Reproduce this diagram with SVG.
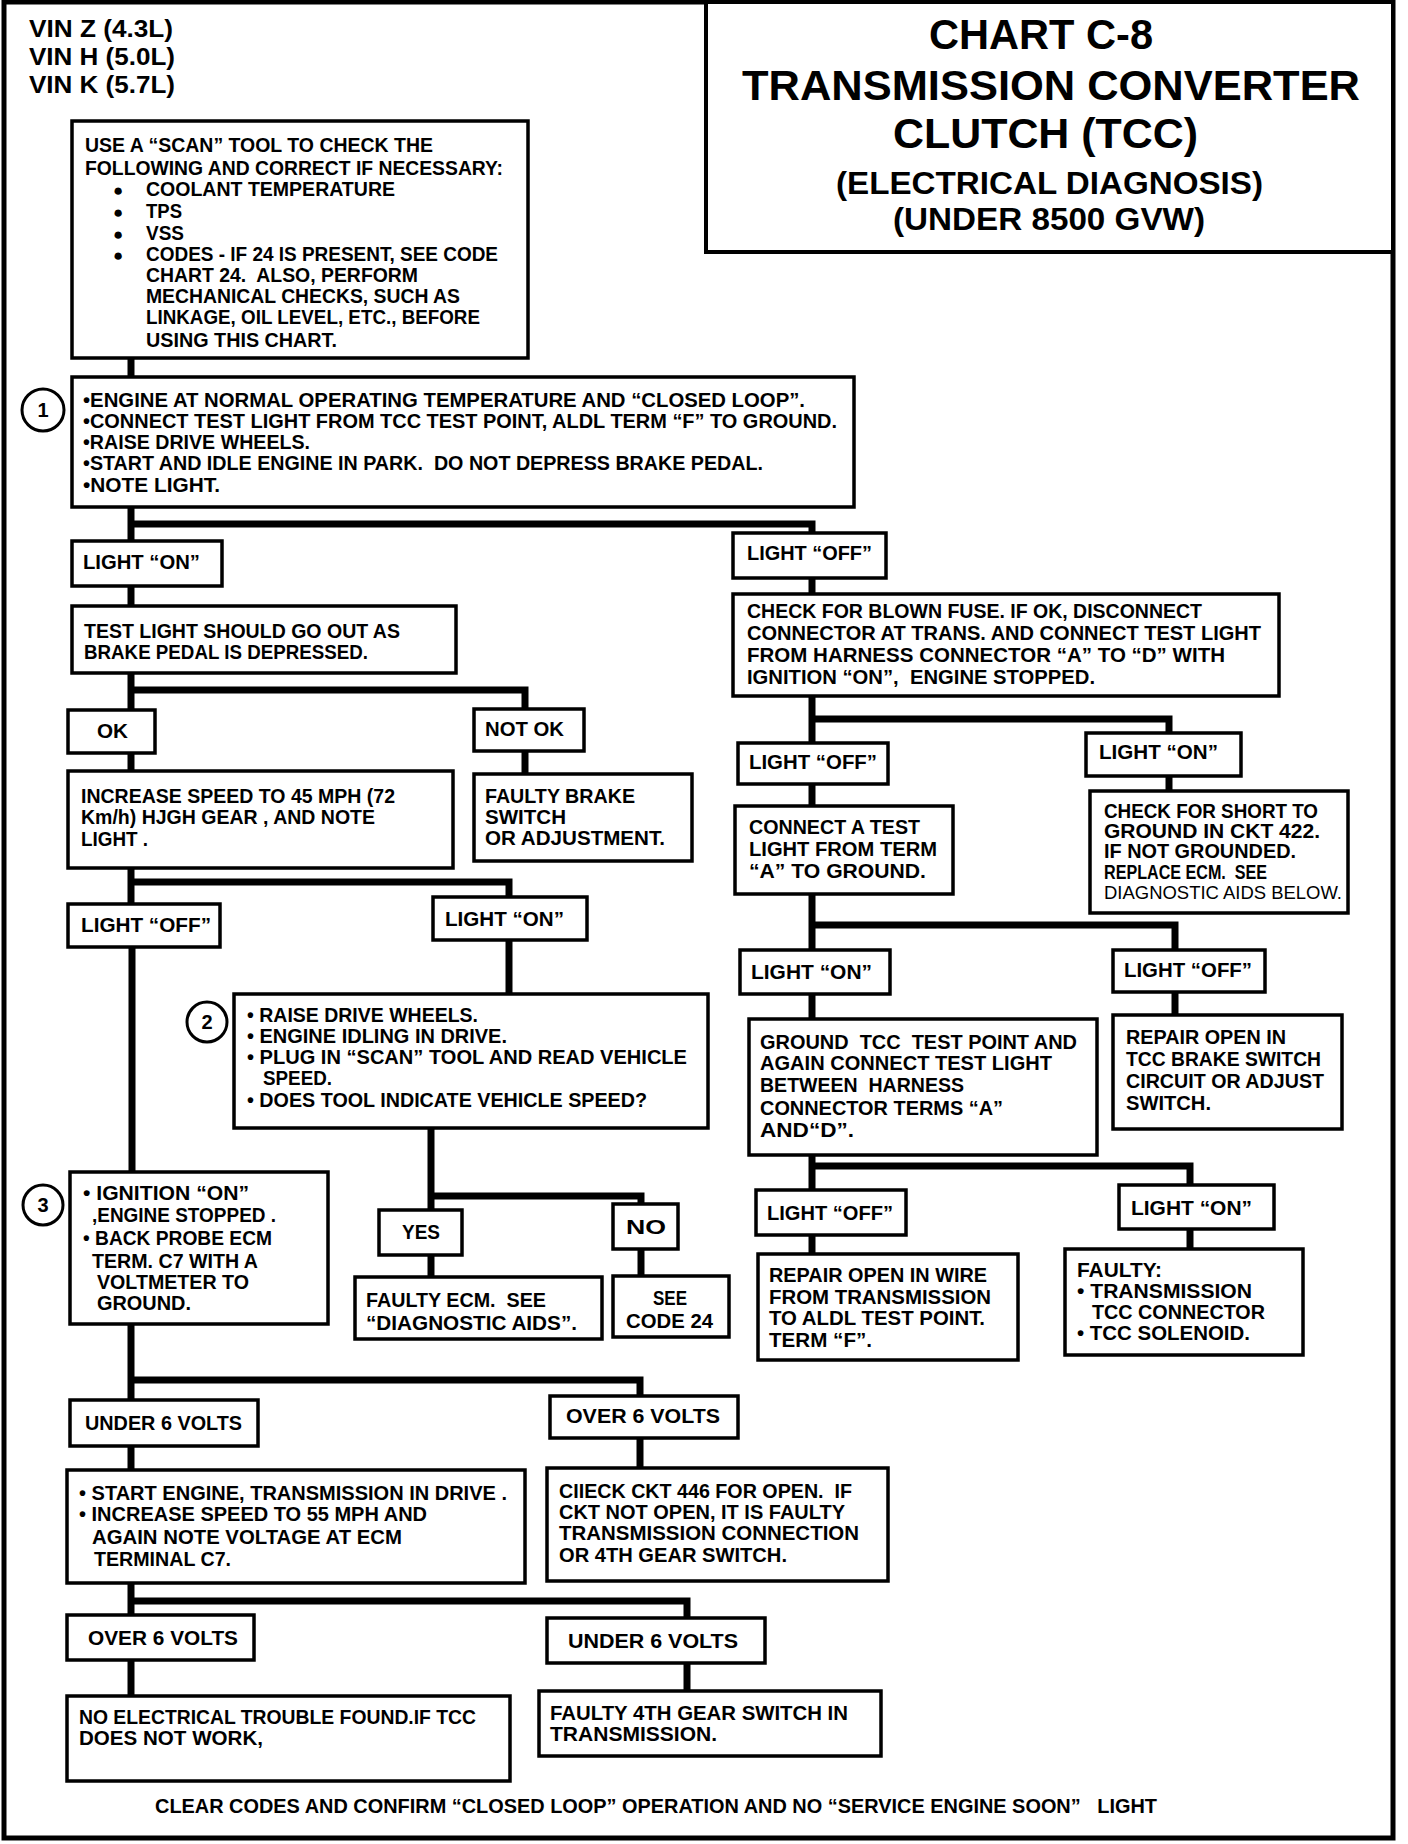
<svg xmlns="http://www.w3.org/2000/svg" width="1408" height="1844" viewBox="0 0 1408 1844">
<style>
.bx{fill:#fff;stroke:#000;stroke-width:3.5}
.t{font-family:'Liberation Sans',Arial,sans-serif;font-weight:bold;font-size:21px;fill:#000;white-space:pre}
.r{font-family:'Liberation Sans',Arial,sans-serif;font-weight:normal;font-size:19px;fill:#000;white-space:pre}
.h{font-family:'Liberation Sans',Arial,sans-serif;font-weight:bold;fill:#000}
.c{fill:none;stroke:#000;stroke-width:7;stroke-linecap:square}
.ci{fill:#fff;stroke:#000;stroke-width:3}
.b{font-family:'Liberation Sans','DejaVu Sans',sans-serif;font-size:17px;fill:#000}
</style>
<rect x="0" y="0" width="1408" height="1844" fill="#fff"/>
<rect x="4" y="2" width="1389" height="1836" fill="none" stroke="#000" stroke-width="5"/>

<g id="title">
<rect x="706" y="2" width="687" height="250" fill="#fff" stroke="#000" stroke-width="4"/>
<text class="h" font-size="43" x="929" y="49" textLength="224" lengthAdjust="spacingAndGlyphs">CHART C-8</text>
<text class="h" font-size="43" x="742" y="100" textLength="618" lengthAdjust="spacingAndGlyphs">TRANSMISSION CONVERTER</text>
<text class="h" font-size="43" x="893" y="148" textLength="305" lengthAdjust="spacingAndGlyphs">CLUTCH (TCC)</text>
<text class="h" font-size="31" x="836" y="194" textLength="427" lengthAdjust="spacingAndGlyphs">(ELECTRICAL DIAGNOSIS)</text>
<text class="h" font-size="31" x="893" y="230" textLength="312" lengthAdjust="spacingAndGlyphs">(UNDER 8500 GVW)</text>
</g>

<g id="vin">
<text class="h" font-size="24" x="29" y="37" textLength="144" lengthAdjust="spacingAndGlyphs">VIN Z (4.3L)</text>
<text class="h" font-size="24" x="29" y="65" textLength="146" lengthAdjust="spacingAndGlyphs">VIN H (5.0L)</text>
<text class="h" font-size="24" x="29" y="93" textLength="146" lengthAdjust="spacingAndGlyphs">VIN K (5.7L)</text>
</g>

<g id="connectors">
<path class="c" d="M131 358V377"/>
<path class="c" d="M131 507V541M131 524H812V533"/>
<path class="c" d="M131 586V606"/>
<path class="c" d="M131 673V710M131 690H525V709"/>
<path class="c" d="M131 753V771"/>
<path class="c" d="M525 751V774"/>
<path class="c" d="M131 868V904M131 882H509V897"/>
<path class="c" d="M132 947V1172"/>
<path class="c" d="M509 940V994"/>
<path class="c" d="M431 1128V1210M431 1196H641V1204"/>
<path class="c" d="M431 1255V1277"/>
<path class="c" d="M641 1249V1276"/>
<path class="c" d="M131 1324V1400M131 1380H640V1396"/>
<path class="c" d="M131 1446V1470"/>
<path class="c" d="M640 1438V1468"/>
<path class="c" d="M131 1583V1615M131 1601H687V1618"/>
<path class="c" d="M131 1660V1696"/>
<path class="c" d="M687 1663V1691"/>
<path class="c" d="M812 578V594"/>
<path class="c" d="M812 696V743M812 719H1169V733"/>
<path class="c" d="M812 784V806"/>
<path class="c" d="M1169 776V791"/>
<path class="c" d="M812 894V950M812 925H1175V950"/>
<path class="c" d="M812 994V1019"/>
<path class="c" d="M1175 992V1015"/>
<path class="c" d="M812 1155V1190M812 1166H1190V1185"/>
<path class="c" d="M812 1235V1254"/>
<path class="c" d="M1190 1229V1249"/>
</g>

<g id="n-scan">
<rect class="bx" x="72" y="121" width="456" height="237"/>
<text class="t" x="85" y="152" textLength="348" lengthAdjust="spacingAndGlyphs">USE A “SCAN” TOOL TO CHECK THE</text>
<text class="t" x="85" y="175" textLength="418" lengthAdjust="spacingAndGlyphs">FOLLOWING AND CORRECT IF NECESSARY:</text>
<text class="b" x="113" y="196">●</text>
<text class="t" x="146" y="196" textLength="249" lengthAdjust="spacingAndGlyphs">COOLANT TEMPERATURE</text>
<text class="b" x="113" y="218">●</text>
<text class="t" x="146" y="218" textLength="36" lengthAdjust="spacingAndGlyphs">TPS</text>
<text class="b" x="113" y="240">●</text>
<text class="t" x="146" y="240" textLength="38" lengthAdjust="spacingAndGlyphs">VSS</text>
<text class="b" x="113" y="261">●</text>
<text class="t" x="146" y="261" textLength="352" lengthAdjust="spacingAndGlyphs">CODES - IF 24 IS PRESENT, SEE CODE</text>
<text class="t" x="146" y="282" textLength="272" lengthAdjust="spacingAndGlyphs">CHART 24.  ALSO, PERFORM</text>
<text class="t" x="146" y="303" textLength="314" lengthAdjust="spacingAndGlyphs">MECHANICAL CHECKS, SUCH AS</text>
<text class="t" x="146" y="324" textLength="334" lengthAdjust="spacingAndGlyphs">LINKAGE, OIL LEVEL, ETC., BEFORE</text>
<text class="t" x="146" y="347" textLength="191" lengthAdjust="spacingAndGlyphs">USING THIS CHART.</text>
</g>

<g id="n-step1">
<rect class="bx" x="72" y="377" width="782" height="130"/>
<circle class="ci" cx="43" cy="410" r="21"/>
<text class="h" font-size="20" x="43" y="417" text-anchor="middle">1</text>
<text class="t" x="83" y="407" textLength="722" lengthAdjust="spacingAndGlyphs">•ENGINE AT NORMAL OPERATING TEMPERATURE AND “CLOSED LOOP”.</text>
<text class="t" x="83" y="428" textLength="754" lengthAdjust="spacingAndGlyphs">•CONNECT TEST LIGHT FROM TCC TEST POINT, ALDL TERM “F” TO GROUND.</text>
<text class="t" x="83" y="449" textLength="227" lengthAdjust="spacingAndGlyphs">•RAISE DRIVE WHEELS.</text>
<text class="t" x="83" y="470" textLength="680" lengthAdjust="spacingAndGlyphs">•START AND IDLE ENGINE IN PARK.  DO NOT DEPRESS BRAKE PEDAL.</text>
<text class="t" x="83" y="492" textLength="137" lengthAdjust="spacingAndGlyphs">•NOTE LIGHT.</text>
</g>

<g id="n-lon1">
<rect class="bx" x="72" y="541" width="150" height="45"/>
<text class="t" x="83" y="569" textLength="117" lengthAdjust="spacingAndGlyphs">LIGHT “ON”</text>
</g>

<g id="n-test">
<rect class="bx" x="72" y="606" width="384" height="67"/>
<text class="t" x="84" y="638" textLength="316" lengthAdjust="spacingAndGlyphs">TEST LIGHT SHOULD GO OUT AS</text>
<text class="t" x="84" y="659" textLength="284" lengthAdjust="spacingAndGlyphs">BRAKE PEDAL IS DEPRESSED.</text>
</g>

<g id="n-ok">
<rect class="bx" x="68" y="710" width="87" height="43"/>
<text class="t" x="97" y="738" textLength="31" lengthAdjust="spacingAndGlyphs">OK</text>
</g>

<g id="n-notok">
<rect class="bx" x="474" y="709" width="110" height="42"/>
<text class="t" x="485" y="736" textLength="79" lengthAdjust="spacingAndGlyphs">NOT OK</text>
</g>

<g id="n-increase">
<rect class="bx" x="68" y="771" width="385" height="97"/>
<text class="t" x="81" y="803" textLength="314" lengthAdjust="spacingAndGlyphs">INCREASE SPEED TO 45 MPH (72</text>
<text class="t" x="81" y="824" textLength="294" lengthAdjust="spacingAndGlyphs">Km/h) HJGH GEAR , AND NOTE</text>
<text class="t" x="81" y="846" textLength="67" lengthAdjust="spacingAndGlyphs">LIGHT .</text>
</g>

<g id="n-faultybrake">
<rect class="bx" x="474" y="774" width="218" height="87"/>
<text class="t" x="485" y="803" textLength="150" lengthAdjust="spacingAndGlyphs">FAULTY BRAKE</text>
<text class="t" x="485" y="824" textLength="81" lengthAdjust="spacingAndGlyphs">SWITCH</text>
<text class="t" x="485" y="845" textLength="180" lengthAdjust="spacingAndGlyphs">OR ADJUSTMENT.</text>
</g>

<g id="n-loff-l">
<rect class="bx" x="68" y="904" width="152" height="43"/>
<text class="t" x="81" y="932" textLength="130" lengthAdjust="spacingAndGlyphs">LIGHT “OFF”</text>
</g>

<g id="n-lon-m">
<rect class="bx" x="433" y="897" width="154" height="43"/>
<text class="t" x="445" y="926" textLength="119" lengthAdjust="spacingAndGlyphs">LIGHT “ON”</text>
</g>

<g id="n-step2">
<rect class="bx" x="234" y="994" width="474" height="134"/>
<circle class="ci" cx="207" cy="1022" r="20"/>
<text class="h" font-size="20" x="207" y="1029" text-anchor="middle">2</text>
<text class="t" x="247" y="1022" textLength="231" lengthAdjust="spacingAndGlyphs">• RAISE DRIVE WHEELS.</text>
<text class="t" x="247" y="1043" textLength="260" lengthAdjust="spacingAndGlyphs">• ENGINE IDLING IN DRIVE.</text>
<text class="t" x="247" y="1064" textLength="440" lengthAdjust="spacingAndGlyphs">• PLUG IN “SCAN” TOOL AND READ VEHICLE</text>
<text class="t" x="263" y="1085" textLength="69" lengthAdjust="spacingAndGlyphs">SPEED.</text>
<text class="t" x="247" y="1107" textLength="400" lengthAdjust="spacingAndGlyphs">• DOES TOOL INDICATE VEHICLE SPEED?</text>
</g>

<g id="n-step3">
<rect class="bx" x="70" y="1172" width="258" height="152"/>
<circle class="ci" cx="43" cy="1205" r="20"/>
<text class="h" font-size="20" x="43" y="1212" text-anchor="middle">3</text>
<text class="t" x="83" y="1200" textLength="166" lengthAdjust="spacingAndGlyphs">• IGNITION “ON”</text>
<text class="t" x="92" y="1222" textLength="184" lengthAdjust="spacingAndGlyphs">,ENGINE STOPPED .</text>
<text class="t" x="83" y="1245" textLength="189" lengthAdjust="spacingAndGlyphs">• BACK PROBE ECM</text>
<text class="t" x="92" y="1268" textLength="166" lengthAdjust="spacingAndGlyphs">TERM. C7 WITH A</text>
<text class="t" x="97" y="1289" textLength="152" lengthAdjust="spacingAndGlyphs">VOLTMETER TO</text>
<text class="t" x="97" y="1310" textLength="94" lengthAdjust="spacingAndGlyphs">GROUND.</text>
</g>

<g id="n-yes">
<rect class="bx" x="379" y="1210" width="83" height="45"/>
<text class="t" x="402" y="1239" textLength="38" lengthAdjust="spacingAndGlyphs">YES</text>
</g>

<g id="n-no">
<rect class="bx" x="613" y="1204" width="65" height="45"/>
<text class="t" x="626" y="1234" textLength="40" lengthAdjust="spacingAndGlyphs">NO</text>
</g>

<g id="n-faultyecm">
<rect class="bx" x="355" y="1277" width="247" height="62"/>
<text class="t" x="366" y="1307" textLength="180" lengthAdjust="spacingAndGlyphs">FAULTY ECM.  SEE</text>
<text class="t" x="366" y="1330" textLength="211" lengthAdjust="spacingAndGlyphs">“DIAGNOSTIC AIDS”.</text>
</g>

<g id="n-see24">
<rect class="bx" x="613" y="1276" width="116" height="61"/>
<text class="t" x="653" y="1305" textLength="34" lengthAdjust="spacingAndGlyphs">SEE</text>
<text class="t" x="626" y="1328" textLength="87" lengthAdjust="spacingAndGlyphs">CODE 24</text>
</g>

<g id="n-under6a">
<rect class="bx" x="70" y="1400" width="188" height="46"/>
<text class="t" x="85" y="1430" textLength="157" lengthAdjust="spacingAndGlyphs">UNDER 6 VOLTS</text>
</g>

<g id="n-over6a">
<rect class="bx" x="550" y="1396" width="188" height="42"/>
<text class="t" x="566" y="1423" textLength="154" lengthAdjust="spacingAndGlyphs">OVER 6 VOLTS</text>
</g>

<g id="n-start">
<rect class="bx" x="67" y="1470" width="458" height="113"/>
<text class="t" x="79" y="1500" textLength="428" lengthAdjust="spacingAndGlyphs">• START ENGINE, TRANSMISSION IN DRIVE .</text>
<text class="t" x="79" y="1521" textLength="348" lengthAdjust="spacingAndGlyphs">• INCREASE SPEED TO 55 MPH AND</text>
<text class="t" x="92" y="1544" textLength="310" lengthAdjust="spacingAndGlyphs">AGAIN NOTE VOLTAGE AT ECM</text>
<text class="t" x="94" y="1566" textLength="137" lengthAdjust="spacingAndGlyphs">TERMINAL C7.</text>
</g>

<g id="n-ckt446">
<rect class="bx" x="547" y="1468" width="341" height="113"/>
<text class="t" x="559" y="1498" textLength="293" lengthAdjust="spacingAndGlyphs">CIIECK CKT 446 FOR OPEN.  IF</text>
<text class="t" x="559" y="1519" textLength="286" lengthAdjust="spacingAndGlyphs">CKT NOT OPEN, IT IS FAULTY</text>
<text class="t" x="559" y="1540" textLength="300" lengthAdjust="spacingAndGlyphs">TRANSMISSION CONNECTION</text>
<text class="t" x="559" y="1562" textLength="228" lengthAdjust="spacingAndGlyphs">OR 4TH GEAR SWITCH.</text>
</g>

<g id="n-over6b">
<rect class="bx" x="67" y="1615" width="187" height="45"/>
<text class="t" x="88" y="1645" textLength="150" lengthAdjust="spacingAndGlyphs">OVER 6 VOLTS</text>
</g>

<g id="n-under6b">
<rect class="bx" x="547" y="1618" width="218" height="45"/>
<text class="t" x="568" y="1648" textLength="170" lengthAdjust="spacingAndGlyphs">UNDER 6 VOLTS</text>
</g>

<g id="n-noelec">
<rect class="bx" x="67" y="1696" width="443" height="85"/>
<text class="t" x="79" y="1724" textLength="397" lengthAdjust="spacingAndGlyphs">NO ELECTRICAL TROUBLE FOUND.IF TCC</text>
<text class="t" x="79" y="1745" textLength="184" lengthAdjust="spacingAndGlyphs">DOES NOT WORK,</text>
</g>

<g id="n-faulty4th">
<rect class="bx" x="539" y="1691" width="342" height="65"/>
<text class="t" x="550" y="1720" textLength="298" lengthAdjust="spacingAndGlyphs">FAULTY 4TH GEAR SWITCH IN</text>
<text class="t" x="550" y="1741" textLength="167" lengthAdjust="spacingAndGlyphs">TRANSMISSION.</text>
</g>

<g id="n-loff-r1">
<rect class="bx" x="733" y="533" width="153" height="45"/>
<text class="t" x="747" y="560" textLength="125" lengthAdjust="spacingAndGlyphs">LIGHT “OFF”</text>
</g>

<g id="n-blownfuse">
<rect class="bx" x="733" y="594" width="546" height="102"/>
<text class="t" x="747" y="618" textLength="455" lengthAdjust="spacingAndGlyphs">CHECK FOR BLOWN FUSE. IF OK, DISCONNECT</text>
<text class="t" x="747" y="640" textLength="514" lengthAdjust="spacingAndGlyphs">CONNECTOR AT TRANS. AND CONNECT TEST LIGHT</text>
<text class="t" x="747" y="662" textLength="478" lengthAdjust="spacingAndGlyphs">FROM HARNESS CONNECTOR “A” TO “D” WITH</text>
<text class="t" x="747" y="684" textLength="348" lengthAdjust="spacingAndGlyphs">IGNITION “ON”,  ENGINE STOPPED.</text>
</g>

<g id="n-loff-r2">
<rect class="bx" x="738" y="743" width="150" height="41"/>
<text class="t" x="749" y="769" textLength="128" lengthAdjust="spacingAndGlyphs">LIGHT “OFF”</text>
</g>

<g id="n-lon-r2">
<rect class="bx" x="1086" y="733" width="155" height="43"/>
<text class="t" x="1099" y="759" textLength="119" lengthAdjust="spacingAndGlyphs">LIGHT “ON”</text>
</g>

<g id="n-connect">
<rect class="bx" x="735" y="806" width="218" height="88"/>
<text class="t" x="749" y="834" textLength="171" lengthAdjust="spacingAndGlyphs">CONNECT A TEST</text>
<text class="t" x="749" y="856" textLength="188" lengthAdjust="spacingAndGlyphs">LIGHT FROM TERM</text>
<text class="t" x="749" y="878" textLength="177" lengthAdjust="spacingAndGlyphs">“A” TO GROUND.</text>
</g>

<g id="n-short">
<rect class="bx" x="1090" y="791" width="258" height="122"/>
<text class="t" x="1104" y="818" textLength="214" lengthAdjust="spacingAndGlyphs">CHECK FOR SHORT TO</text>
<text class="t" x="1104" y="838" textLength="216" lengthAdjust="spacingAndGlyphs">GROUND IN CKT 422.</text>
<text class="t" x="1104" y="858" textLength="192" lengthAdjust="spacingAndGlyphs">IF NOT GROUNDED.</text>
<text class="t" x="1104" y="879" textLength="163" lengthAdjust="spacingAndGlyphs">REPLACE ECM.  SEE</text>
<text class="r" x="1104" y="899" textLength="238" lengthAdjust="spacingAndGlyphs">DIAGNOSTIC AIDS BELOW.</text>
</g>

<g id="n-lon-r3">
<rect class="bx" x="740" y="950" width="150" height="44"/>
<text class="t" x="751" y="979" textLength="121" lengthAdjust="spacingAndGlyphs">LIGHT “ON”</text>
</g>

<g id="n-loff-r3">
<rect class="bx" x="1113" y="950" width="152" height="42"/>
<text class="t" x="1124" y="977" textLength="128" lengthAdjust="spacingAndGlyphs">LIGHT “OFF”</text>
</g>

<g id="n-groundtcc">
<rect class="bx" x="749" y="1019" width="348" height="136"/>
<text class="t" x="760" y="1049" textLength="317" lengthAdjust="spacingAndGlyphs">GROUND  TCC  TEST POINT AND</text>
<text class="t" x="760" y="1070" textLength="292" lengthAdjust="spacingAndGlyphs">AGAIN CONNECT TEST LIGHT</text>
<text class="t" x="760" y="1092" textLength="204" lengthAdjust="spacingAndGlyphs">BETWEEN  HARNESS</text>
<text class="t" x="760" y="1115" textLength="243" lengthAdjust="spacingAndGlyphs">CONNECTOR TERMS “A”</text>
<text class="t" x="760" y="1137" textLength="94" lengthAdjust="spacingAndGlyphs">AND“D”.</text>
</g>

<g id="n-repairtcc">
<rect class="bx" x="1113" y="1015" width="229" height="114"/>
<text class="t" x="1126" y="1044" textLength="160" lengthAdjust="spacingAndGlyphs">REPAIR OPEN IN</text>
<text class="t" x="1126" y="1066" textLength="195" lengthAdjust="spacingAndGlyphs">TCC BRAKE SWITCH</text>
<text class="t" x="1126" y="1088" textLength="198" lengthAdjust="spacingAndGlyphs">CIRCUIT OR ADJUST</text>
<text class="t" x="1126" y="1110" textLength="85" lengthAdjust="spacingAndGlyphs">SWITCH.</text>
</g>

<g id="n-loff-r4">
<rect class="bx" x="756" y="1190" width="150" height="45"/>
<text class="t" x="767" y="1220" textLength="126" lengthAdjust="spacingAndGlyphs">LIGHT “OFF”</text>
</g>

<g id="n-lon-r4">
<rect class="bx" x="1119" y="1185" width="155" height="44"/>
<text class="t" x="1131" y="1215" textLength="121" lengthAdjust="spacingAndGlyphs">LIGHT “ON”</text>
</g>

<g id="n-repairwire">
<rect class="bx" x="758" y="1254" width="260" height="106"/>
<text class="t" x="769" y="1282" textLength="218" lengthAdjust="spacingAndGlyphs">REPAIR OPEN IN WIRE</text>
<text class="t" x="769" y="1304" textLength="222" lengthAdjust="spacingAndGlyphs">FROM TRANSMISSION</text>
<text class="t" x="769" y="1325" textLength="216" lengthAdjust="spacingAndGlyphs">TO ALDL TEST POINT.</text>
<text class="t" x="769" y="1347" textLength="103" lengthAdjust="spacingAndGlyphs">TERM “F”.</text>
</g>

<g id="n-faulty">
<rect class="bx" x="1065" y="1249" width="238" height="106"/>
<text class="t" x="1077" y="1277" textLength="85" lengthAdjust="spacingAndGlyphs">FAULTY:</text>
<text class="t" x="1077" y="1298" textLength="175" lengthAdjust="spacingAndGlyphs">• TRANSMISSION</text>
<text class="t" x="1092" y="1319" textLength="173" lengthAdjust="spacingAndGlyphs">TCC CONNECTOR</text>
<text class="t" x="1077" y="1340" textLength="173" lengthAdjust="spacingAndGlyphs">• TCC SOLENOID.</text>
</g>

<g id="footer">
<text class="t" x="155" y="1813" textLength="1002" lengthAdjust="spacingAndGlyphs">CLEAR CODES AND CONFIRM “CLOSED LOOP” OPERATION AND NO “SERVICE ENGINE SOON”   LIGHT</text>
</g>
</svg>
